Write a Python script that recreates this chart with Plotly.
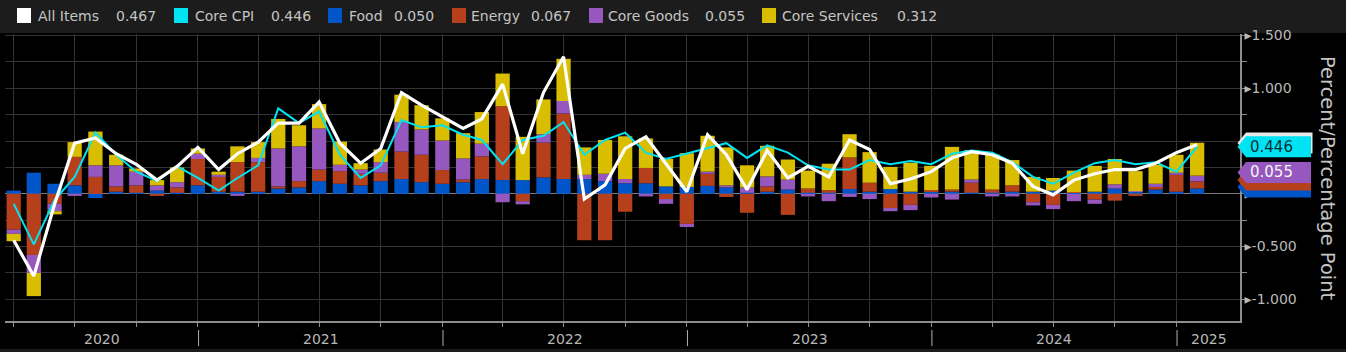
import plotly.graph_objects as go
import pandas as pd

# ---------------- data (Mar 2020 .. Jan 2025, monthly) ----------------
months = pd.date_range("2020-03-31", periods=59, freq="ME")

food = [0.03, 0.20, 0.095, 0.08, -0.04, 0.02, 0.01, 0.03, 0.01, 0.08,
        0.02, 0.02, 0.02, 0.05, 0.06, 0.12, 0.095, 0.08, 0.12, 0.14,
        0.11, 0.095, 0.11, 0.14, 0.13, 0.13, 0.155, 0.14, 0.14, 0.12,
        0.10, 0.10, 0.07, 0.065, 0.075, 0.06, 0.01, 0.02, 0.04, 0.01,
        0.01, 0.045, 0.02, 0.045, 0.02, 0.025, 0.02, 0.01, 0.01, 0.02,
        0.02, 0.03, 0.01, 0.02, 0.05, 0.02, 0.04, 0.02, 0.050]
energy = [-0.34, -0.58, -0.095, 0.27, 0.16, 0.05, 0.07, -0.02, 0.05, 0.25,
          0.14, 0.28, 0.28, 0.02, 0.06, 0.11, 0.12, 0.11, 0.08, 0.26,
          0.26, 0.13, 0.025, 0.215, 0.70, -0.07, 0.33, 0.62, -0.44, -0.44,
          -0.17, 0.145, -0.05, -0.285, 0.115, -0.03, -0.18, 0.05, -0.20, 0.04,
          0.025, 0.30, 0.085, -0.135, -0.105, 0.01, 0.02, 0.095, 0.03, 0.06,
          -0.08, -0.105, 0.005, -0.055, -0.065, -0.02, 0.025, 0.16, 0.067]
core_goods = [-0.04, -0.17, -0.07, -0.02, 0.11, 0.20, 0.13, 0.05, 0.05, 0.05,
              0.02, -0.02, 0.04, 0.36, 0.33, 0.39, 0.06, 0.04, 0.10, 0.28,
              0.24, 0.28, 0.20, 0.12, -0.08, -0.03, 0.08, 0.12, 0.04, 0.07,
              0.04, -0.025, -0.045, -0.03, 0.02, 0.02, 0.05, 0.095, 0.095, -0.025,
              -0.07, -0.03, -0.05, -0.03, -0.05, -0.035, -0.055, 0.03, -0.025, -0.025,
              -0.03, -0.04, -0.07, -0.04, 0.04, 0.005, 0.03, 0.02, 0.055]
core_services = [-0.07, -0.22, -0.03, 0.14, 0.32, 0.10, 0.03, 0.05, 0.14, 0.05,
                 0.03, 0.15, 0.15, 0.28, 0.20, 0.23, 0.22, 0.06, 0.12, 0.26,
                 0.23, 0.21, 0.24, 0.30, 0.31, 0.41, 0.33, 0.40, 0.26, 0.32,
                 0.405, 0.28, 0.26, 0.32, 0.34, 0.36, 0.21, 0.29, 0.19, 0.17,
                 0.25, 0.22, 0.29, 0.21, 0.275, 0.23, 0.405, 0.28, 0.335, 0.24,
                 0.14, 0.12, 0.205, 0.245, 0.24, 0.19, 0.18, 0.17, 0.312]
all_items = [-0.44, -0.78, -0.10, 0.48, 0.53, 0.38, 0.28, 0.13, 0.26, 0.44,
             0.23, 0.38, 0.49, 0.67, 0.67, 0.87, 0.48, 0.29, 0.43, 0.96,
             0.84, 0.73, 0.62, 0.71, 1.04, 0.38, 0.96, 1.30, -0.05, 0.085,
             0.43, 0.54, 0.28, 0.02, 0.56, 0.37, 0.04, 0.41, 0.15, 0.26,
             0.16, 0.51, 0.42, 0.095, 0.14, 0.21, 0.34, 0.40, 0.37, 0.29,
             0.07, -0.01, 0.13, 0.19, 0.23, 0.23, 0.29, 0.39, 0.467]
core_cpi = [-0.095, -0.48, -0.06, 0.16, 0.58, 0.37, 0.21, 0.12, 0.26, 0.15,
            0.03, 0.15, 0.27, 0.81, 0.67, 0.78, 0.37, 0.15, 0.27, 0.70,
            0.63, 0.65, 0.56, 0.51, 0.28, 0.51, 0.55, 0.68, 0.37, 0.51,
            0.58, 0.39, 0.33, 0.38, 0.43, 0.48, 0.34, 0.46, 0.39, 0.27,
            0.23, 0.23, 0.32, 0.28, 0.31, 0.28, 0.38, 0.41, 0.39, 0.30,
            0.16, 0.095, 0.20, 0.29, 0.32, 0.28, 0.30, 0.21, 0.446]

series_names = ["All Items", "Core CPI", "Food", "Energy", "Core Goods", "Core Services"]
y_tick_values = [-1.0, -0.5, 0.0, 0.5, 1.0, 1.5]
hidden_tick_labels = [0.0, 0.5]   # covered by the value tags in the reference
years = [2020, 2021, 2022, 2023, 2024, 2025]
axis_title = "Percent/Percentage Point"

# ---------------- styling ----------------
W, H = 1346, 352
ML, MR, MT, MB = 5, 106, 34, 31
PW, PH = W - ML - MR, H - MT - MB
Y_MIN, Y_MAX = -1.206, 1.515
X_MIN, X_MAX = "2020-03-18", "2025-04-05"
FONT = "DejaVu Sans"

C_WHITE = "#ffffff"
C_CYAN = "#00e3f2"
C_FOOD = "#0055c8"
C_ENERGY = "#b6401c"
C_GOODS = "#9657be"
C_SERV = "#d9bd00"
GRID = "#343434"
AXIS = "#8e8e8e"
TXT = "#c4c4c4"
STRIP = "#1c1c1c"

colors = [C_WHITE, C_CYAN, C_FOOD, C_ENERGY, C_GOODS, C_SERV]
last_vals = [all_items[-1], core_cpi[-1], food[-1], energy[-1], core_goods[-1], core_services[-1]]


def px_x(p):
    return (p - ML) / PW


def px_y(p):
    return (H - MB - p) / PH


units_per_px = (Y_MAX - Y_MIN) / PH
bar_width_ms = 0.70 * 30.44 * 86400000

fig = go.Figure()
for name, vals, col in [("Food", food, C_FOOD), ("Energy", energy, C_ENERGY),
                        ("Core Goods", core_goods, C_GOODS), ("Core Services", core_services, C_SERV)]:
    fig.add_trace(go.Bar(x=months, y=vals, name=name, marker_color=col,
                         marker_line_width=0, width=bar_width_ms))

fig.add_trace(go.Scatter(x=months, y=core_cpi, name="Core CPI", mode="lines",
                         line=dict(color=C_CYAN, width=2)))
fig.add_trace(go.Scatter(x=months, y=all_items, name="All Items", mode="lines",
                         line=dict(color=C_WHITE, width=3.2)))

quarter_ticks = [d for d in months if d.month in (3, 6, 9, 12) and d <= pd.Timestamp("2024-12-31")]

shapes = []
annotations = []

# top legend strip and bottom strip
shapes.append(dict(type="rect", xref="paper", yref="paper", x0=px_x(0), x1=px_x(W),
                   y0=px_y(33), y1=px_y(0), fillcolor=STRIP, line_width=0, layer="below"))
shapes.append(dict(type="rect", xref="paper", yref="paper", x0=px_x(0), x1=px_x(W),
                   y0=px_y(352), y1=px_y(349), fillcolor=STRIP, line_width=0, layer="below"))

# legend items
sq_x = [17, 174, 328, 452, 589, 762]
name_x = [36, 193, 347, 469, 606, 780]
val_right = [158, 313, 436, 573, 747, 939]
for i in range(6):
    shapes.append(dict(type="rect", xref="paper", yref="paper",
                       x0=px_x(sq_x[i]), x1=px_x(sq_x[i] + 14),
                       y0=px_y(23), y1=px_y(8), fillcolor=colors[i], line_width=0))
    annotations.append(dict(xref="paper", yref="paper", x=px_x(name_x[i]), y=px_y(16),
                            xanchor="left", yanchor="middle", showarrow=False,
                            text=series_names[i], font=dict(family=FONT, size=14, color=TXT)))
    annotations.append(dict(xref="paper", yref="paper", x=px_x(val_right[i]), y=px_y(16),
                            xanchor="right", yanchor="middle", showarrow=False,
                            text=f"{last_vals[i]:.3f}", font=dict(family=FONT, size=14, color=TXT)))

# year separators and labels
for yr in years[1:]:
    shapes.append(dict(type="line", xref="x", yref="paper", x0=f"{yr}-01-01", x1=f"{yr}-01-01",
                       y0=px_y(330), y1=px_y(346), line=dict(color="#b0b0b0", width=1)))
x_min_ts, x_max_ts = pd.Timestamp(X_MIN), pd.Timestamp(X_MAX)
for yr in years:
    a = max(pd.Timestamp(f"{yr}-01-01"), x_min_ts)
    b = min(pd.Timestamp(f"{yr + 1}-01-01"), x_max_ts)
    mid = a + (b - a) / 2
    annotations.append(dict(xref="x", yref="paper", x=mid, y=px_y(339), xanchor="center",
                            yanchor="middle", showarrow=False, text=str(yr),
                            font=dict(family=FONT, size=14, color="#b8b8b8")))

# axis title (reads top to bottom)
annotations.append(dict(xref="paper", yref="paper", x=px_x(1328), y=px_y(178), textangle=90,
                        showarrow=False, xanchor="center", yanchor="middle", text=axis_title,
                        font=dict(family=FONT, size=19.5, color=TXT)))


# value tags on the right axis
def tag(center_val, color, right_px=1311, half_px=10.5, tip_px=1237.5, body_px=1246):
    yc = center_val
    yt = yc + half_px * units_per_px
    yb = yc - half_px * units_per_px
    path = (f"M {px_x(tip_px)},{yc} L {px_x(body_px)},{yt} L {px_x(right_px)},{yt} "
            f"L {px_x(right_px)},{yb} L {px_x(body_px)},{yb} Z")
    return dict(type="path", xref="paper", yref="y", path=path, fillcolor=color, line_width=0)


goods_tag_y = core_goods[-1] + 15.5 * units_per_px
shapes.append(tag(food[-1] + 1.5 * units_per_px, C_FOOD))
shapes.append(tag(energy[-1] + 6.7 * units_per_px, C_ENERGY))
shapes.append(tag(goods_tag_y, C_GOODS))
shapes.append(tag(all_items[-1] + 1.5 * units_per_px, "#e8e8e8", right_px=1312.5))
shapes.append(tag(core_cpi[-1], C_CYAN))

annotations.append(dict(xref="paper", yref="y", x=px_x(1248), y=core_cpi[-1], xanchor="left",
                        yanchor="middle", showarrow=False, text=f"{core_cpi[-1]:.3f}",
                        font=dict(family=FONT, size=15, color="#0a2f38")))
annotations.append(dict(xref="paper", yref="y", x=px_x(1248), y=goods_tag_y,
                        xanchor="left", yanchor="middle", showarrow=False,
                        text=f"{core_goods[-1]:.3f}", font=dict(family=FONT, size=15, color="#f4f4f4")))

tick_text = ["\u25b8" if v in hidden_tick_labels else "\u25b8" + f"{v:.3f}" for v in y_tick_values]

fig.update_layout(
    width=W, height=H,
    margin=dict(l=ML, r=MR, t=MT, b=MB, pad=0),
    paper_bgcolor="#000000", plot_bgcolor="#000000",
    barmode="relative", bargap=0.3,
    showlegend=False,
    font=dict(family=FONT, color=TXT),
    shapes=shapes, annotations=annotations,
    xaxis=dict(type="date", range=[X_MIN, X_MAX], tickmode="array", tickvals=quarter_ticks,
               showticklabels=False, ticks="outside", ticklen=4, tickcolor=AXIS,
               showgrid=True, gridcolor=GRID, gridwidth=1,
               showline=True, linecolor=AXIS, linewidth=1.5, zeroline=False, fixedrange=True),
    yaxis=dict(side="right", range=[Y_MIN, Y_MAX], tickmode="array", tickvals=y_tick_values,
               ticktext=tick_text,
               ticks="", tickfont=dict(family=FONT, size=14, color="#b8b8b8"),
               showgrid=True, gridcolor=GRID, gridwidth=1,
               minor=dict(dtick=0.25, tick0=0, showgrid=True, gridcolor=GRID,
                          ticks="outside", ticklen=5, tickcolor=AXIS),
               showline=True, linecolor=AXIS, linewidth=1.5,
               zeroline=True, zerolinecolor="#7c7c7c", zerolinewidth=1, fixedrange=True),
)

fig.write_html("out.html")
